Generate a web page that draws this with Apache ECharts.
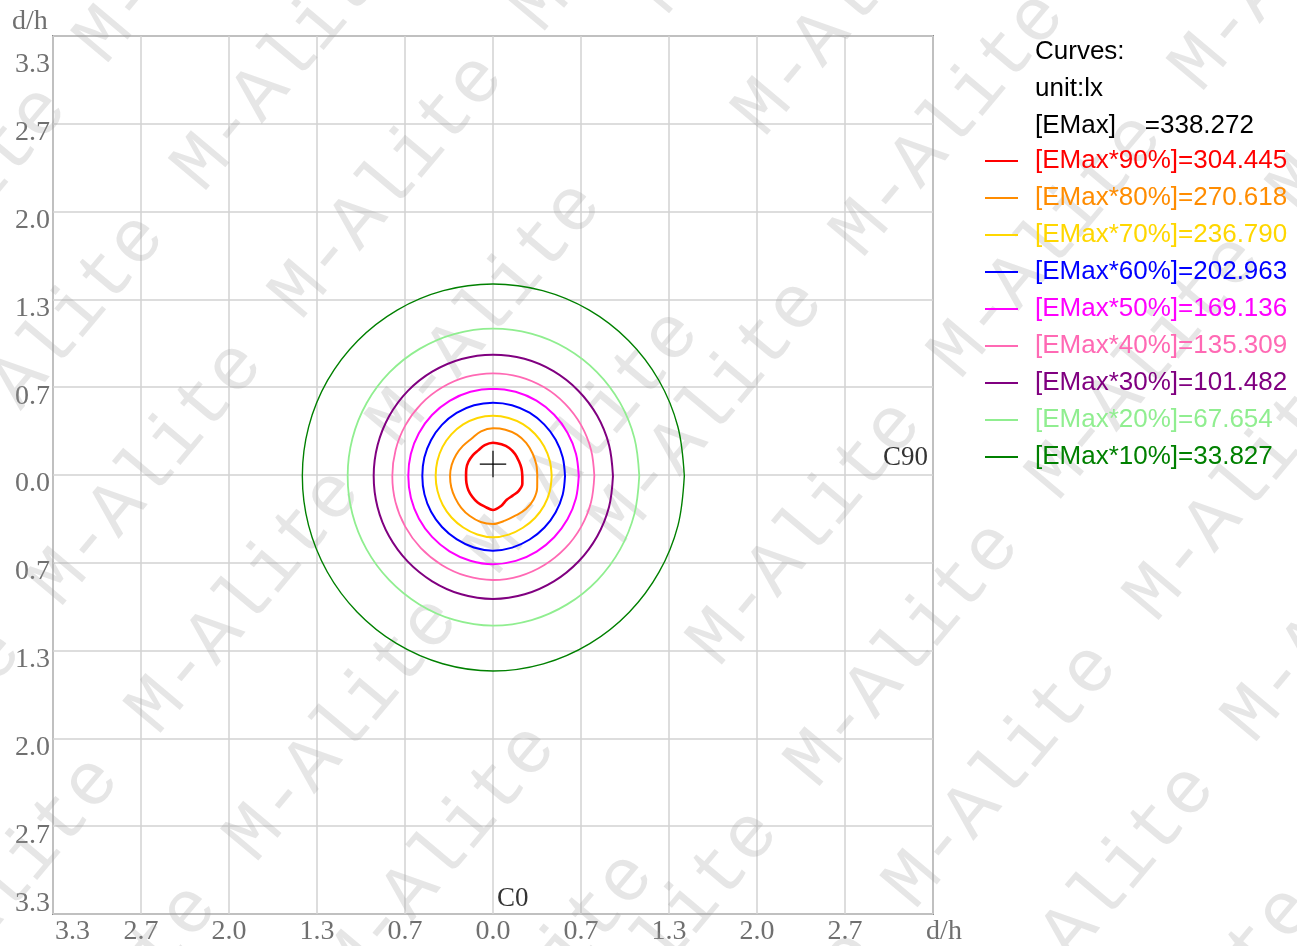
<!DOCTYPE html>
<html><head><meta charset="utf-8">
<script src="https://cdn.jsdelivr.net/npm/echarts@6/dist/echarts.min.js"></script>
<style>html,body{margin:0;padding:0;background:#fff}#c{width:1297px;height:946px}</style>
</head><body><div id="c"></div>
<script>
// ---------- data ----------
const levelNames = ['[EMax*90%]=304.445','[EMax*80%]=270.618','[EMax*70%]=236.790','[EMax*60%]=202.963','[EMax*50%]=169.136','[EMax*40%]=135.309','[EMax*30%]=101.482','[EMax*20%]=67.654','[EMax*10%]=33.827'];
const headerLines = ['Curves:', 'unit:lx', '[EMax]    =338.272'];
// contour radius (d/h) at angles 0,15,...,345 deg (0 = C90 side, 90 = up)
const angles = [0,15,30,45,60,75,90,105,120,135,150,165,180,195,210,225,240,255,270,285,300,315,330,345];
const r90 = [.222,.223,.226,.236,.245,.248,.252,.242,.224,.219,.215,.209,.204,.208,.215,.222,.232,.240,.257,.235,.208,.210,.225,.230];
const r80 = [.335,.339,.345,.355,.362,.363,.361,.350,.326,.322,.322,.324,.325,.327,.331,.340,.350,.360,.363,.350,.345,.353,.355,.346];
const r70 = [.444,.445,.447,.450,.453,.455,.456,.455,.451,.446,.441,.436,.434,.435,.439,.444,.450,.458,.464,.459,.452,.449,.447,.445];
const r60 = [.545,.546,.548,.550,.553,.555,.555,.554,.551,.547,.542,.538,.535,.537,.541,.546,.552,.560,.565,.561,.555,.551,.548,.546];
const r50 = [.649,.650,.652,.655,.658,.660,.661,.660,.657,.653,.648,.644,.641,.643,.647,.652,.658,.664,.668,.665,.660,.655,.652,.650];
const r40 = [.767,.768,.770,.772,.775,.777,.777,.776,.773,.770,.766,.763,.762,.764,.767,.772,.777,.783,.787,.784,.778,.773,.770,.768];
const r30 = [.908,.909,.911,.913,.916,.918,.918,.917,.914,.911,.907,.904,.903,.905,.909,.914,.920,.927,.931,.927,.921,.915,.911,.909];
const r20 = [1.107,1.108,1.110,1.112,1.114,1.115,1.115,1.114,1.111,1.108,1.104,1.101,1.100,1.102,1.106,1.112,1.120,1.128,1.133,1.129,1.122,1.116,1.111,1.108];
const r10 = [1.448,1.448,1.449,1.450,1.451,1.452,1.453,1.452,1.450,1.448,1.446,1.444,1.443,1.445,1.449,1.455,1.463,1.471,1.476,1.472,1.465,1.458,1.452,1.449];
const contourRadii = [r90, r80, r70, r60, r50, r40, r30, r20, r10];
// axis
const axisMin = -3.33, axisMax = 3.33, axisStep = 0.666;
const xTickLabels = ['3.3','2.7','2.0','1.3','0.7','0.0','0.7','1.3','2.0','2.7','d/h'];
const yTickLabels = ['3.3','2.7','2.0','1.3','0.7','0.0','0.7','1.3','2.0','2.7','3.3'];
const yAxisTitle = 'd/h';
// center cross marker (d/h)
const crossCenter = [0, 0.083];
const crossHalf = 0.1;
// direction labels
const dirLabels = [{name:'C0', value:[0, -3.33]}, {name:'C90', value:[3.33, 0]}];

// ---------- styles ----------
const levelColors = ['#ff0000','#ff8c00','#ffd700','#0000ff','#ff00ff','#ff69b4','#800080','#90ee90','#008000'];
const levelWidths = [2.6,2,2,2,2,1.8,2,1.8,1.4];
const serif = 'Liberation Serif';
const sans = 'Liberation Sans';

const chart = echarts.init(document.getElementById('c'), null, {renderer:'canvas'});

const tickIndex = v => Math.round((v - axisMin) / axisStep);

const series = [];
contourRadii.forEach((rs, i) => {
  const data = rs.map((r, j) => [r, angles[j]]);
  data.push([rs[0], 360]);
  series.push({
    name: levelNames[i], type:'line', coordinateSystem:'polar', data,
    showSymbol:false, smooth:0.35, color: levelColors[i],
    lineStyle:{color: levelColors[i], width: levelWidths[i]}, z: 3, silent:true
  });
});
series.push({type:'line', data:[[crossCenter[0]-crossHalf, crossCenter[1]],[crossCenter[0]+crossHalf, crossCenter[1]]],
  showSymbol:false, lineStyle:{color:'#000', width:1.2}, z:4, silent:true});
series.push({type:'line', data:[[crossCenter[0], crossCenter[1]-crossHalf],[crossCenter[0], crossCenter[1]+crossHalf]],
  showSymbol:false, lineStyle:{color:'#000', width:1.2}, z:4, silent:true});
series.push({type:'scatter', symbolSize:0, z:5, silent:true,
  data: dirLabels.map((d,i) => ({value:d.value, name:d.name,
    label: i===0 ? {position:[4,-29], align:'left'} : {position:[-5,-31], align:'right'}})),
  label:{show:true, formatter: p => p.name, color:'#000', fontFamily:serif, fontSize:27, lineHeight:27}
});

// watermark (decoration)
const wm = [];
const rot = 50 * Math.PI / 180, cr = Math.cos(rot), sr = Math.sin(rot);
function lattice(p0, s, q0, dq, period, keep) {
  for (let k = -8; k < 18; k++) for (let m = -8; m < 8; m++) {
    const p = p0 + s*k, q = q0 + dq*k + period*m;
    const cx = sr*p + cr*q, cy = cr*p - sr*q;
    if (!keep(cx, cy)) continue;
    if (cx < -350 || cx > 1350 || cy < -50 || cy > 1250) continue;
    wm.push({type:'text', x: cx - 23*cr, y: cy + 23*sr, rotation: rot, silent:true, z: 1,
      style:{text:'M-Alite', font:'76px "Liberation Mono"', fill:'rgba(160,160,160,0.26)', align:'left', verticalAlign:'middle'}});
  }
}
lattice(103, 157, 40, -35, 375, (x,y) => x < 560);
lattice(654, 153, 408, -30, 375, (x,y) => x >= 560);

const header = headerLines.map((t, i) => ({type:'text', left: 1035, top: 50 - 11 + 37*i, z: 6, silent:true,
  style:{text:t, font:'26px "' + sans + '"', fill:'#000'}}));
header.push({type:'text', left: 12, top: 8, z: 6, silent:true,
  style:{text: yAxisTitle, font:'28px "' + serif + '"', fill:'#707070'}});

chart.setOption({
  animation:false,
  backgroundColor:'#fff',
  grid:{left:53, top:36, width:880, height:880, show:true, borderColor:'#8c8c8c', borderWidth:2, backgroundColor:'transparent'},
  xAxis:{type:'value', min:axisMin, max:axisMax, interval:axisStep,
    axisLine:{show:false}, axisTick:{show:false},
    splitLine:{show:true, lineStyle:{color:'#d2d2d2', width:1.5}},
    axisLabel:{margin:4, color:'#707070', fontFamily:serif, fontSize:28, lineHeight:28, showMinLabel:true, showMaxLabel:true,
      formatter: v => { const i = tickIndex(v); const t = xTickLabels[i];
        return i === 0 ? '{first|' + t + '}' : (i === 10 ? '{last|' + t + '}' : t); },
      rich:{first:{padding:[0,0,0,39]}, last:{padding:[0,0,0,22]}}}
  },
  yAxis:{type:'value', min:axisMin, max:axisMax, interval:axisStep,
    axisLine:{show:false}, axisTick:{show:false},
    splitLine:{show:true, lineStyle:{color:'#d2d2d2', width:1.5}},
    axisLabel:{margin:3, color:'#707070', fontFamily:serif, fontSize:28, lineHeight:28, showMinLabel:true, showMaxLabel:true,
      formatter: v => { const i = tickIndex(v); const t = yTickLabels[i];
        return i === 10 ? '{top|' + t + '}' : (i === 0 ? '{bot|' + t + '}' : '{n|' + t + '}'); },
      rich:{n:{padding:[18,0,0,0]}, top:{padding:[58,0,0,0]}, bot:{padding:[0,0,20,0]}}}
  },
  polar:{center:[493,476], radius:440},
  angleAxis:{type:'value', min:0, max:360, startAngle:0, clockwise:false, show:false, splitLine:{show:false}, axisLine:{show:false}},
  radiusAxis:{type:'value', min:0, max:3.33, show:false, splitLine:{show:false}, axisLine:{show:false}},
  legend:{orient:'vertical', left:980, top:143, itemWidth:33, itemHeight:2, itemGap:11, icon:'rect', selectedMode:false,
    textStyle:{fontFamily:sans, fontSize:26, lineHeight:26, padding:[0,0,0,12]},
    data: levelNames.map((n,i) => ({name:n, textStyle:{color: levelColors[i]}}))},
  graphic: wm.concat(header),
  series
});
</script></body></html>
